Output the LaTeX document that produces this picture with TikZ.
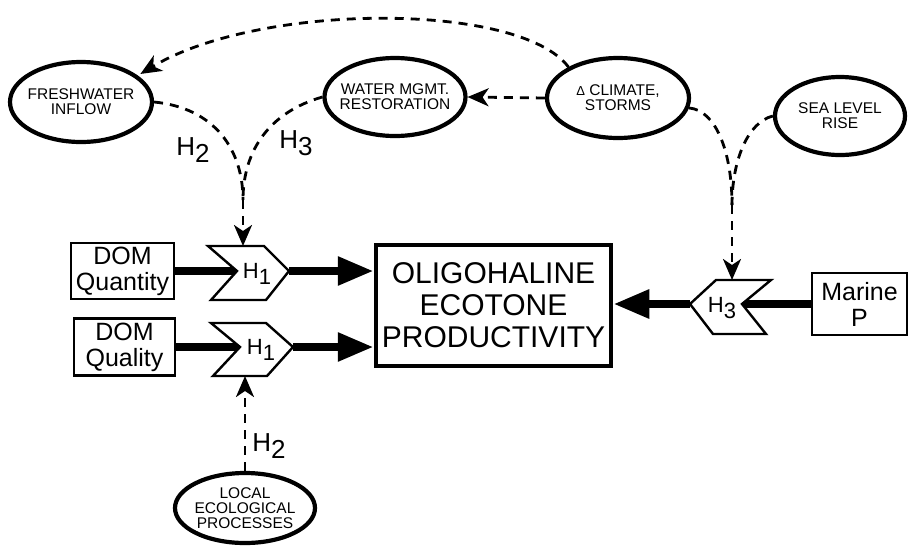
\documentclass[tikz,border=0pt]{standalone}
\usepackage{fontspec}
\setmainfont{Liberation Sans}
\usetikzlibrary{arrows.meta,shapes.geometric}
\newcommand\Hsub[1]{H\raisebox{-0.27em}{#1}}
\begin{document}
\begin{tikzpicture}[x=1pt,y=-1pt,
  ell/.style={ellipse,draw,line width=4.2pt,inner sep=0pt},
  etext/.style={inner sep=0pt,align=center,font=\fontsize{15.5}{15}\selectfont},
  box/.style={rectangle,draw,line width=2.4pt,inner sep=0pt,align=center,font=\fontsize{25}{26}\selectfont},
  chev/.style={draw,fill=white,line width=2.4pt,line join=miter},
  thickline/.style={line width=8.5pt},
  thickarrow/.style={line width=8.5pt,-{Triangle[length=36pt,width=27pt]}},
  dashline/.style={line width=2.8pt,dash pattern=on 9pt off 7pt},
  dasharrow/.style={dashline,-{Stealth[length=21pt,width=18pt,inset=6pt]}},
  hlab/.style={font=\fontsize{26}{26}\selectfont,inner sep=0pt},
  hin/.style={font=\fontsize{22}{22}\selectfont,inner sep=0pt}]
\useasboundingbox (0,0) rectangle (908,547);

% ellipses
\node[ell,minimum width=142pt,minimum height=80pt] (fw) at (81,102) {};
\node[etext] (fwt) at (fw) {FRESHWATER\\INFLOW};
\node[ell,minimum width=141pt,minimum height=78pt] (wm) at (395,97) {};
\node[etext] (wmt) at (wm) {WATER MGMT.\\RESTORATION};
\node[ell,minimum width=142pt,minimum height=80pt] (cl) at (618,98) {};
\node[etext] (clt) at (cl) {{\fontsize{13}{13}\selectfont Δ} CLIMATE,\\STORMS};
\node[ell,minimum width=130pt,minimum height=78pt] (sl) at (840,116) {};
\node[etext] (slt) at (sl) {SEA LEVEL\\RISE};
\node[ell,minimum width=140pt,minimum height=70pt] (le) at (245,508) {};
\node[etext] (let) at (le) {LOCAL\\ECOLOGICAL\\PROCESSES};

% boxes
\node[box,minimum width=103pt,minimum height=56pt] (dq) at (122.5,271) {DOM\\Quantity};
\node[box,minimum width=101pt,minimum height=57pt] (dl) at (124.5,347) {DOM\\Quality};
\node[box,minimum width=95pt,minimum height=62pt] (mp) at (859.5,304) {Marine\\P};
\node[draw,line width=4.5pt,minimum width=235pt,minimum height=121pt,inner sep=0pt,align=center,
      font=\fontsize{30}{32}\selectfont] (main) at (493.5,305.5) {OLIGOHALINE\\ECOTONE\\PRODUCTIVITY};

% chevron key points
\coordinate (h1an) at (237,271);
\coordinate (h1at) at (289,271);
\coordinate (h1atop) at (243,246);
\coordinate (h1bn) at (240,347);
\coordinate (h1bt) at (293,347);
\coordinate (h1bbot) at (245,376);
\coordinate (h3n) at (742,304);
\coordinate (h3t) at (690,304);
\coordinate (h3top) at (732,280);

% thick shafts
\draw[thickline] (dq.east) -- (h1an);
\draw[thickline] (dl.east) -- (h1bn);
\draw[thickline] (mp.west) -- (h3n);

% chevrons
\draw[chev] (208,246) -- (264,246) -- (h1at) -- (266,300) -- (211,300) -- (h1an) -- cycle;
\draw[chev] (211,323) -- (266,323) -- (h1bt) -- (267,376) -- (213,376) -- (h1bn) -- cycle;
\draw[chev] (h3t) -- (716,280) -- (771,280) -- (h3n) -- (766,334) -- (713,334) -- cycle;
\node[hin] (h1a) at (257,274) {\Hsub{1}};
\node[hin] (h1b) at (261,350) {\Hsub{1}};
\node[hin] (h3) at (722,308) {\Hsub{3}};

% thick arrows
\draw[thickarrow] (h1at) -- (h1at -| main.west);
\draw[thickarrow] (h1bt) -- (h1bt -| main.west);
\draw[thickarrow] (h3t) -- (h3t -| main.east);

% dashed connectors
\coordinate (m1) at (243,200);
\draw[dashline] (fw.east) .. controls (215,108) and (243,150) .. (m1);
\draw[dashline] (wm.west) .. controls (270,112) and (243,150) .. (m1);
\draw[dasharrow] (m1) -- (h1atop);
\draw[dasharrow,shorten >=3pt] (cl.148) .. controls (520,2) and (260,2) .. (fw.25);
\draw[dasharrow] (cl.west) -- (wm.east);
\coordinate (m2) at (732,205);
\draw[dashline] (cl.-8) .. controls (715,110) and (732,150) .. (m2);
\draw[dashline] (sl.west) .. controls (748,122) and (732,160) .. (m2);
\draw[dasharrow] (m2) -- (h3top);
\draw[dasharrow] (le.north) -- (h1bbot);

% labels
\node[hlab] (lh2a) at (193,150) {\Hsub{2}};
\node[hlab] (lh3) at (296,143) {\Hsub{3}};
\node[hlab] (lh2b) at (269,446) {\Hsub{2}};
\end{tikzpicture}
\end{document}
